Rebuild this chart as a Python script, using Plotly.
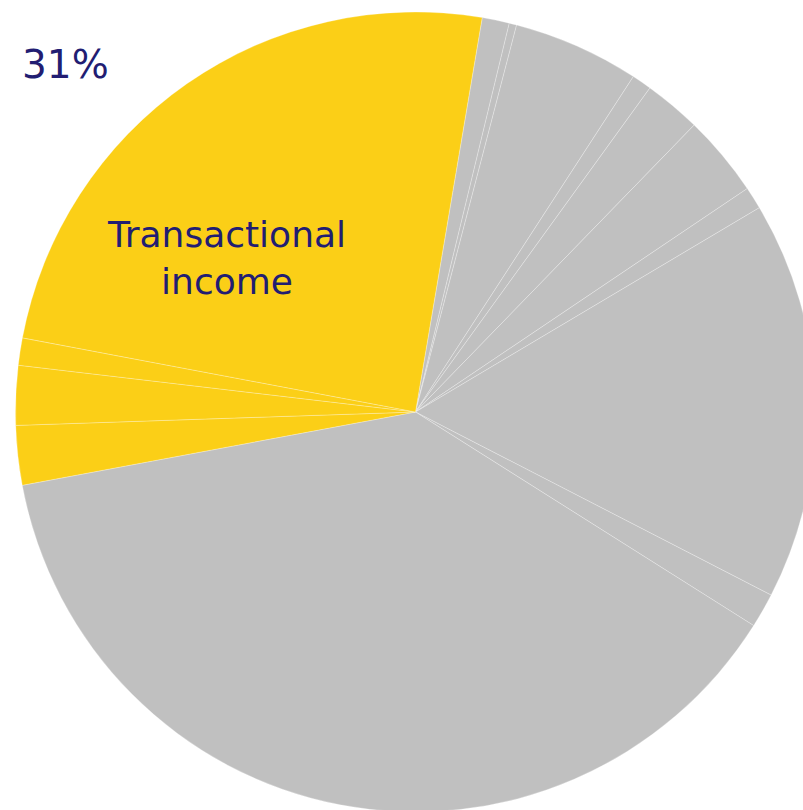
import plotly.graph_objects as go

labels = ["G1", "G2", "G3", "G4", "G5", "G6", "G7", "G8", "G9", "G10",
          "Y1", "Y2", "Y3", "Transactional income"]
values = [1.1, 0.3, 5.1, 0.8, 2.3, 3.3, 0.9, 16.1, 1.4, 38.1,
          2.4, 2.4, 1.1, 24.7]
groups = ["other"] * 10 + ["transactional"] * 4
group_colors = {"other": "#C0C0C0", "transactional": "#FBCF17"}
colors = [group_colors[g] for g in groups]

W, H = 830, 830
cx, cy, r = 415.5, 412, 400

fig = go.Figure(go.Pie(
    labels=labels, values=values, sort=False, direction="clockwise",
    rotation=9.6, textinfo="none", hoverinfo="label+percent",
    marker=dict(colors=colors, line=dict(color="rgba(255,255,255,0.45)", width=0.6)),
    domain=dict(x=[(cx - r) / W, (cx + r) / W], y=[(H - cy - r) / H, (H - cy + r) / H]),
    showlegend=False,
))

navy = "#221D72"
fig.add_annotation(x=20 / W, y=1 - 64 / H, xref="paper", yref="paper", xanchor="left", yanchor="middle",
                   text="31%", showarrow=False, font=dict(family="DejaVu Sans", size=39, color=navy))
fig.add_annotation(x=226 / W, y=1 - 258 / H, xref="paper", yref="paper", xanchor="center", yanchor="middle",
                   text="Transactional<br>income", showarrow=False,
                   font=dict(family="DejaVu Sans", size=36, color=navy))

fig.update_layout(width=W, height=H, margin=dict(l=0, r=0, t=0, b=0),
                  paper_bgcolor="white", plot_bgcolor="white")
fig.write_html("out.html", post_script="document.body.style.overflow='hidden';document.body.style.margin='0';")
